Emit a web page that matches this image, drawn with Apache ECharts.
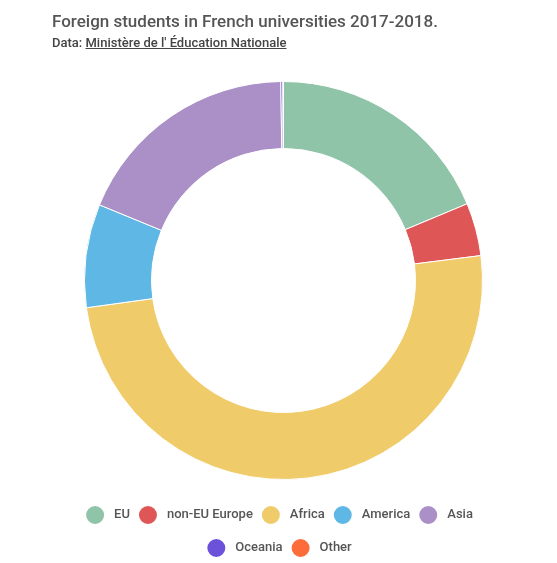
<!DOCTYPE html>
<html>
<head>
<meta charset="utf-8">
<script src="https://cdn.jsdelivr.net/npm/echarts@6/dist/echarts.min.js"></script>
<style>
  html, body { margin: 0; padding: 0; background: #fff; }
  #wrap { position: relative; width: 557px; height: 563px; }
  #chart { width: 557px; height: 563px; }
  .head { position: absolute; left: 52px; top: 10px; font-family: Roboto, sans-serif; }
  .head h1 { margin: 0; font-size: 17px; font-weight: 500; color: #555; line-height: 22px; }
  .head p { margin: 3px 0 0; font-size: 13px; font-weight: 500; color: #444; line-height: 16px; }
  .head a { color: #444; text-decoration: underline; }
</style>
</head>
<body>
<div id="wrap">
  <div id="chart"></div>
  <div class="head">
    <h1>Foreign students in French universities 2017-2018.</h1>
    <p>Data: <a>Ministère de l' Éducation Nationale</a></p>
  </div>
</div>
<script>
  var regions = ['EU', 'non-EU Europe', 'Africa', 'America', 'Asia', 'Oceania', 'Other']
  var students = [45700, 10500, 121700, 20500, 45400, 400, 120]
  var colors = ['#8fc4a8', '#df5657', '#efcb6a', '#5eb7e5', '#ab90c7', '#6c51da', '#fd6b3b']

  var chart = echarts.init(document.getElementById('chart'))
  var pieData = []
  for (var i in regions) {
    pieData.push({ name: regions[i], value: students[i] })
  }

  var legendBase = {
    left: 'center',
    padding: 0,
    icon: 'circle',
    itemWidth: 20,
    itemHeight: 20,
    itemGap: 7,
    textStyle: { fontFamily: 'Roboto', fontSize: 13, fontWeight: 500, color: '#555', padding: [0, 0, 0, 4] }
  }

  chart.setOption({
    color: colors,
    animation: false,
    legend: [
      Object.assign({}, legendBase, { top: 504, data: regions.slice(0, 5) }),
      Object.assign({}, legendBase, { top: 537, data: regions.slice(5) })
    ],
    series: [{
      type: 'pie',
      center: [283.5, 280.5],
      radius: [132, 199],
      startAngle: 90,
      clockwise: true,
      label: { show: false },
      labelLine: { show: false },
      itemStyle: { borderColor: '#fff', borderWidth: 1 },
      data: pieData
    }]
  })
</script>
</body>
</html>
